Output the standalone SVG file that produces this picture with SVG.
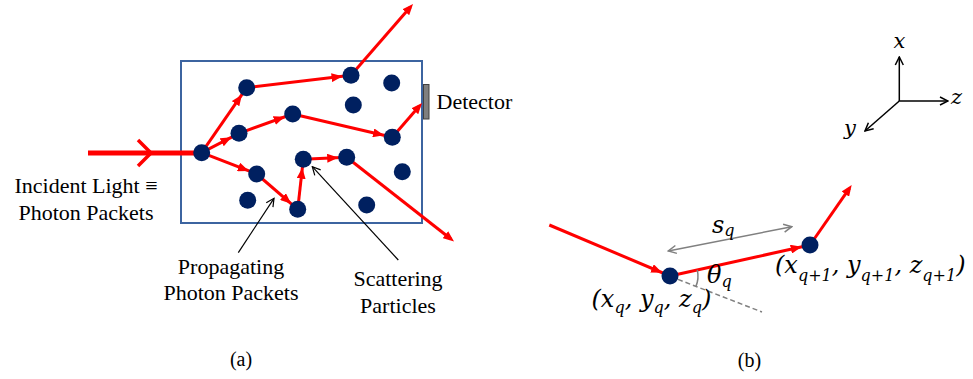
<svg xmlns="http://www.w3.org/2000/svg" width="973" height="379" viewBox="0 0 973 379">
<defs>
<marker id="hd" viewBox="0 0 11 9" markerWidth="11" markerHeight="9" refX="19.5" refY="4.5" orient="auto" markerUnits="userSpaceOnUse">
<path d="M0,0 L11,4.5 L0,9 Z" fill="#FF0000"/>
</marker>
<marker id="ht" viewBox="0 0 11 9" markerWidth="11" markerHeight="9" refX="7" refY="4.5" orient="auto" markerUnits="userSpaceOnUse">
<path d="M0,0 L11,4.5 L0,9 Z" fill="#FF0000"/>
</marker>
<marker id="openk" viewBox="0 0 10 10" markerWidth="10" markerHeight="10" refX="9" refY="5" orient="auto" markerUnits="userSpaceOnUse">
<path d="M1,1 L9,5 L1,9" fill="none" stroke="#000" stroke-width="1.2"/>
</marker>
<marker id="openg" viewBox="0 0 10 10" markerWidth="10" markerHeight="10" refX="9" refY="5" orient="auto-start-reverse" markerUnits="userSpaceOnUse">
<path d="M1,1 L9,5 L1,9" fill="none" stroke="#808080" stroke-width="1.5"/>
</marker>
<marker id="opena" viewBox="0 0 10 10" markerWidth="10" markerHeight="10" refX="9" refY="5" orient="auto" markerUnits="userSpaceOnUse">
<path d="M1,1 L9,5 L1,9" fill="none" stroke="#000" stroke-width="1.5"/>
</marker>
</defs>
<rect width="973" height="379" fill="#fff"/>

<g id="medium">
<rect x="181" y="61" width="241" height="162" fill="none" stroke="#3C64A0" stroke-width="2"/>
</g>
<g id="detector">
<rect x="423.5" y="84.5" width="5.5" height="34.5" fill="#7F7F7F" stroke="#404040" stroke-width="1"/>
<text x="436.5" y="109" font-size="22" font-family="'Liberation Serif', serif">Detector</text>
</g>

<g id="connectors">
<line x1="88" y1="153" x2="201.7" y2="153" stroke="#FF0000" stroke-width="5"/>
<polyline points="138,140 151,153 138,166" stroke="#FF0000" stroke-width="3.5" fill="none"/>
<g stroke="#FF0000" stroke-width="3" fill="none">
<line x1="201.7" y1="152.7" x2="246.7" y2="87.7" marker-end="url(#hd)"/>
<line x1="246.7" y1="87.7" x2="351" y2="75.3" marker-end="url(#hd)"/>
<line x1="351" y1="75.3" x2="410.4" y2="7" marker-end="url(#ht)"/>
<line x1="201.7" y1="152.7" x2="239" y2="133.3" marker-end="url(#hd)"/>
<line x1="239" y1="133.3" x2="292.7" y2="114" marker-end="url(#hd)"/>
<line x1="292.7" y1="114" x2="392.3" y2="137.3" marker-end="url(#hd)"/>
<line x1="392.3" y1="137.3" x2="419.4" y2="106" marker-end="url(#ht)"/>
<line x1="201.7" y1="152.7" x2="256.7" y2="174" marker-end="url(#hd)"/>
<line x1="256.7" y1="174" x2="297.7" y2="209.3" marker-end="url(#hd)"/>
<line x1="297.7" y1="209.3" x2="303.3" y2="159.3" marker-end="url(#hd)"/>
<line x1="303.3" y1="159.3" x2="346.7" y2="157.3" marker-end="url(#hd)"/>
<line x1="346.7" y1="157.3" x2="450.9" y2="239" marker-end="url(#ht)"/>
<line x1="549.3" y1="225" x2="670" y2="276" marker-end="url(#hd)"/>
<line x1="670" y1="276" x2="810" y2="245" marker-end="url(#hd)"/>
<line x1="810" y1="245" x2="849.4" y2="188.3" marker-end="url(#ht)"/>
</g>
<g stroke="#000" stroke-width="1.2" fill="none">
<line x1="238.3" y1="252.7" x2="274" y2="198.3" marker-end="url(#openk)"/>
<line x1="398.3" y1="260" x2="312.3" y2="166.7" marker-end="url(#openk)"/>
</g>
<g stroke="#808080" stroke-width="1.5" fill="none">
<line x1="678" y1="279.4" x2="762" y2="312" stroke-dasharray="5,3"/>
<path d="M695.8,286.9 A28,28 0 0 0 697.3,269.9"/>
<line x1="668.3" y1="251" x2="791.7" y2="226.7" marker-start="url(#openg)" marker-end="url(#openg)"/>
</g>
<g stroke="#000" stroke-width="1.5" fill="none">
<line x1="899.3" y1="101" x2="899.3" y2="57" marker-end="url(#opena)"/>
<line x1="899.3" y1="101" x2="948" y2="101" marker-end="url(#opena)"/>
<line x1="899.3" y1="101" x2="865" y2="131" marker-end="url(#opena)"/>
</g>
</g>

<g id="particles" fill="#002060">
<circle cx="201.7" cy="152.7" r="8.5"/>
<circle cx="246.7" cy="87.7" r="8.5"/>
<circle cx="351" cy="75.3" r="8.5"/>
<circle cx="391.7" cy="83" r="8.5"/>
<circle cx="353.3" cy="105" r="8.5"/>
<circle cx="292.7" cy="114" r="8.5"/>
<circle cx="239" cy="133.3" r="8.5"/>
<circle cx="392.3" cy="137.3" r="8.5"/>
<circle cx="303.3" cy="159.3" r="8.5"/>
<circle cx="346.7" cy="157.3" r="8.5"/>
<circle cx="256.7" cy="174" r="8.5"/>
<circle cx="402.3" cy="171.7" r="8.5"/>
<circle cx="247.7" cy="200.3" r="8.5"/>
<circle cx="297.7" cy="209.3" r="8.5"/>
<circle cx="366.7" cy="205" r="8.5"/>
</g>

<g id="labels-a">
<text x="86" y="193" text-anchor="middle" font-size="22" font-family="'Liberation Serif', serif">Incident Light ≡</text>
<text x="86" y="220" text-anchor="middle" font-size="22" font-family="'Liberation Serif', serif">Photon Packets</text>
<text x="231" y="274" text-anchor="middle" font-size="22" font-family="'Liberation Serif', serif">Propagating</text>
<text x="231" y="300" text-anchor="middle" font-size="22" font-family="'Liberation Serif', serif">Photon Packets</text>
<text x="398" y="286" text-anchor="middle" font-size="22" font-family="'Liberation Serif', serif">Scattering</text>
<text x="398" y="312.5" text-anchor="middle" font-size="22" font-family="'Liberation Serif', serif">Particles</text>
<text x="241" y="366" text-anchor="middle" font-size="20" font-family="'Liberation Serif', serif">(a)</text>
</g>

<g id="point-q">
<circle cx="670" cy="276" r="8.5" fill="#002060"/>
<text x="591.5" y="307" font-size="24" font-style="italic" font-family="'DejaVu Serif', serif">(x<tspan font-size="16" dy="6">q</tspan><tspan dy="-6">, y</tspan><tspan font-size="16" dy="6">q</tspan><tspan dy="-6">, z</tspan><tspan font-size="16" dy="6">q</tspan><tspan dy="-6">)</tspan></text>
</g>
<g id="point-q1">
<circle cx="810" cy="245" r="8.5" fill="#002060"/>
<text x="775" y="273" font-size="24" font-style="italic" font-family="'DejaVu Serif', serif">(x<tspan font-size="16" dy="8">q+1</tspan><tspan dy="-8">, y</tspan><tspan font-size="16" dy="8">q+1</tspan><tspan dy="-8">, z</tspan><tspan font-size="16" dy="8">q+1</tspan><tspan dy="-8">)</tspan></text>
</g>
<g id="labels-b">
<text x="712" y="233" font-size="24" font-style="italic" font-family="'DejaVu Serif', serif">s<tspan font-size="16" dy="3">q</tspan></text>
<text x="707" y="283" font-size="24" font-style="italic" font-family="'DejaVu Serif', serif">θ<tspan font-size="16" dy="4">q</tspan></text>
<text x="893.5" y="48" font-size="21" font-style="italic" font-family="'DejaVu Serif', serif">x</text>
<text x="951" y="104" font-size="21" font-style="italic" font-family="'DejaVu Serif', serif">z</text>
<text x="844" y="135" font-size="21" font-style="italic" font-family="'DejaVu Serif', serif">y</text>
<text x="749.5" y="366.5" text-anchor="middle" font-size="20" font-family="'Liberation Serif', serif">(b)</text>
</g>
</svg>
